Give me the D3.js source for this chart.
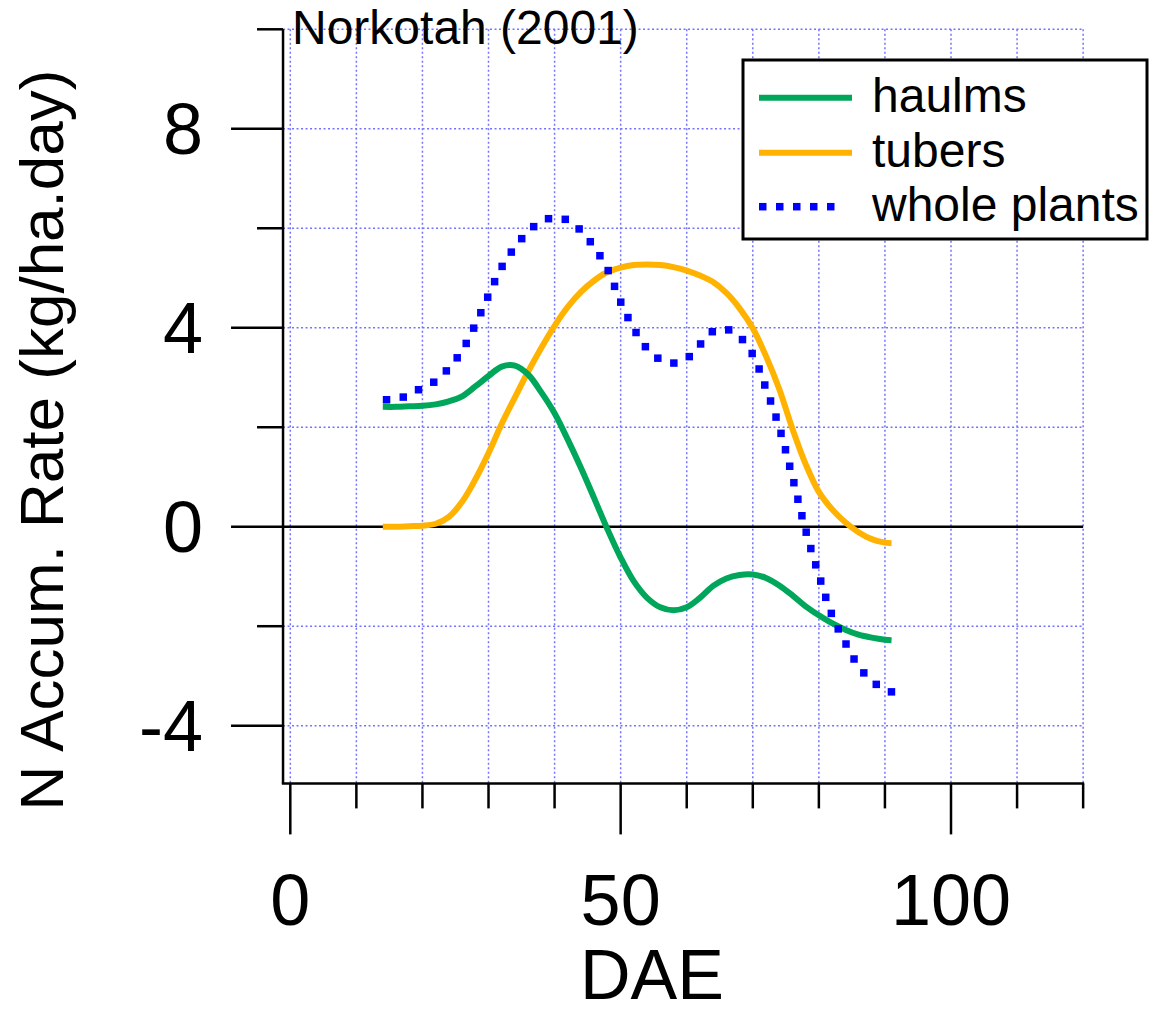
<!DOCTYPE html>
<html>
<head>
<meta charset="utf-8">
<script src="https://cdn.jsdelivr.net/npm/d3@7"></script>
<style>
  html, body { margin: 0; padding: 0; background: #fff; }
  svg { display: block; font-family: "Liberation Sans", Arial, sans-serif; }
</style>
</head>
<body>
<svg id="chart" width="1149" height="1014"></svg>
<script>
// ---- data ----
const dae = [14,16,18,20,22,24,26,28,30,32,34,36,38,40,42,44,46,48,50,52,54,56,58,60,62,64,66,68,70,72,74,76,78,80,82,84,86,88,90,91];
const haulms = [2.41,2.41,2.42,2.43,2.46,2.52,2.62,2.82,3.03,3.22,3.24,3.06,2.70,2.28,1.75,1.18,0.57,-0.05,-0.62,-1.10,-1.43,-1.62,-1.68,-1.62,-1.43,-1.19,-1.04,-0.97,-0.96,-1.03,-1.18,-1.38,-1.60,-1.78,-1.94,-2.07,-2.17,-2.23,-2.27,-2.28];
const tubers = [0.0,0.0,0.01,0.02,0.06,0.2,0.5,0.95,1.48,2.07,2.6,3.12,3.6,4.04,4.42,4.72,4.95,5.12,5.21,5.26,5.27,5.26,5.22,5.15,5.05,4.92,4.70,4.39,3.99,3.43,2.77,1.97,1.26,0.70,0.35,0.09,-0.11,-0.25,-0.32,-0.33];
const wholePlants = [2.55,2.57,2.65,2.80,2.93,3.19,3.54,4.06,4.65,5.22,5.62,5.93,6.14,6.21,6.16,5.95,5.62,5.18,4.52,3.98,3.58,3.36,3.29,3.38,3.66,3.93,3.97,3.82,3.46,2.78,2.00,1.00,-0.07,-0.97,-1.78,-2.33,-2.80,-3.10,-3.27,-3.32];
const seriesNames = ["haulms","tubers","whole plants"];
const xTicks = [0,10,20,30,40,50,60,70,80,90,100,110,120];
const xLabels = [0,50,100];
const yTicks = [-4,-2,0,2,4,6,8,10];
const yLabels = [-4,0,4,8];
const title = "Norkotah (2001)";
const xTitle = "DAE";
const yTitle = "N Accum. Rate (kg/ha.day)";

// ---- layout ----
const svg = d3.select("#chart");
const x = d3.scaleLinear().domain([0, 100]).range([290.3, 951]);
const y = d3.scaleLinear().domain([-4, 10]).range([725.7, 29.3]);
const xMin = -1.1, xMax = 120, yMin = -5.16, yMax = 10;
const pLeft = x(xMin), pRight = x(xMax), pTop = y(yMax), pBottom = y(yMin);

const gridColor = "#7373ff";
const colors = { haulms: "#00A65A", tubers: "#FFB300", whole: "#0000FF" };

// grid
const grid = svg.append("g");
grid.selectAll("line.vg").data(xTicks).join("line")
  .attr("x1", d => x(d)).attr("x2", d => x(d))
  .attr("y1", pTop).attr("y2", pBottom)
  .attr("stroke", gridColor).attr("stroke-width", 1.5).attr("stroke-dasharray", "2,2.5");
grid.selectAll("line.hg").data(yTicks.filter(d => d !== 0)).join("line")
  .attr("x1", pLeft).attr("x2", pRight)
  .attr("y1", d => y(d)).attr("y2", d => y(d))
  .attr("stroke", gridColor).attr("stroke-width", 1.5).attr("stroke-dasharray", "2,2.5");

// zero line
svg.append("line").attr("x1", pLeft).attr("x2", pRight).attr("y1", y(0)).attr("y2", y(0))
  .attr("stroke", "#000").attr("stroke-width", 2.5);

// axes
svg.append("line").attr("x1", pLeft).attr("x2", pLeft).attr("y1", pTop).attr("y2", pBottom)
  .attr("stroke", "#000").attr("stroke-width", 2.5);
svg.append("line").attr("x1", pLeft - 1.2).attr("x2", pRight + 1).attr("y1", pBottom).attr("y2", pBottom)
  .attr("stroke", "#000").attr("stroke-width", 2.5);

// y ticks
svg.selectAll("line.yt").data(yTicks).join("line")
  .attr("x1", d => pLeft - (yLabels.includes(d) ? 52 : 26)).attr("x2", pLeft)
  .attr("y1", d => y(d)).attr("y2", d => y(d))
  .attr("stroke", "#000").attr("stroke-width", 2.5);
svg.selectAll("text.yl").data(yLabels).join("text")
  .attr("x", 203).attr("y", d => y(d) + 25)
  .attr("text-anchor", "end").attr("font-size", 72).attr("fill", "#000")
  .text(d => d);

// x ticks
svg.selectAll("line.xt").data(xTicks).join("line")
  .attr("x1", d => x(d)).attr("x2", d => x(d))
  .attr("y1", pBottom).attr("y2", d => pBottom + (xLabels.includes(d) ? 51 : 25))
  .attr("stroke", "#000").attr("stroke-width", 2.5);
svg.selectAll("text.xl").data(xLabels).join("text")
  .attr("x", d => x(d)).attr("y", 925)
  .attr("text-anchor", "middle").attr("font-size", 72).attr("fill", "#000")
  .text(d => d);

// axis titles
svg.append("text").attr("x", 652).attr("y", 999).attr("text-anchor", "middle")
  .attr("font-size", 70).text(xTitle);
svg.append("text").attr("transform", "translate(63,440) rotate(-90)")
  .attr("text-anchor", "middle").attr("font-size", 62).text(yTitle);

// title
svg.append("text").attr("x", 292).attr("y", 44).attr("font-size", 48).text(title);

// lines
const line = d3.line().x(d => x(d[0])).y(d => y(d[1])).curve(d3.curveCatmullRom.alpha(0.5));
svg.append("path").datum(dae.map((d, i) => [d, tubers[i]]))
  .attr("d", line).attr("fill", "none").attr("stroke", colors.tubers).attr("stroke-width", 6);
svg.append("path").datum(dae.map((d, i) => [d, haulms[i]]))
  .attr("d", line).attr("fill", "none").attr("stroke", colors.haulms).attr("stroke-width", 6);

// whole plants: square dots along the curve
const wpPath = svg.append("path").datum(dae.map((d, i) => [d, wholePlants[i]]))
  .attr("d", line).attr("fill", "none").attr("stroke", "none");
const node = wpPath.node();
const total = node.getTotalLength();
const sq = 7.5, period = 17;
const pts = [];
for (let l = sq / 2; l <= total; l += period) pts.push(node.getPointAtLength(l));
svg.append("g").selectAll("rect").data(pts).join("rect")
  .attr("x", p => p.x - sq / 2).attr("y", p => p.y - sq / 2)
  .attr("width", sq).attr("height", sq).attr("fill", colors.whole);

// legend
const lg = svg.append("g");
lg.append("rect").attr("x", 743).attr("y", 60).attr("width", 404).attr("height", 179)
  .attr("fill", "#fff").attr("stroke", "#000").attr("stroke-width", 3);
const legendRows = [
  { name: seriesNames[0], color: colors.haulms, dotted: false, y: 97.7 },
  { name: seriesNames[1], color: colors.tubers, dotted: false, y: 152.7 },
  { name: seriesNames[2], color: colors.whole, dotted: true, y: 206.7 }
];
legendRows.forEach(r => {
  if (r.dotted) {
    lg.append("g").selectAll("rect").data(d3.range(5)).join("rect")
      .attr("x", i => 759 + i * 17).attr("y", r.y - sq / 2)
      .attr("width", sq).attr("height", sq).attr("fill", r.color);
  } else {
    lg.append("line").attr("x1", 759).attr("x2", 852).attr("y1", r.y).attr("y2", r.y)
      .attr("stroke", r.color).attr("stroke-width", 6);
  }
  lg.append("text").attr("x", 872).attr("y", r.y + 14).attr("font-size", 48).text(r.name);
});
</script>
</body>
</html>
